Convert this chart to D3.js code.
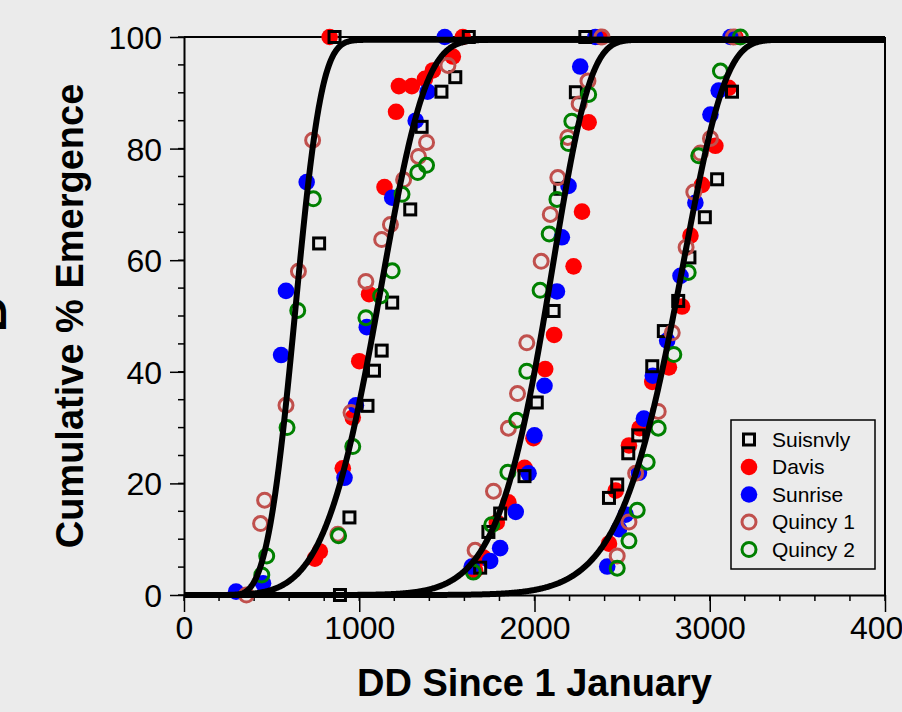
<!DOCTYPE html>
<html>
<head>
<meta charset="utf-8">
<script src="https://cdn.jsdelivr.net/npm/d3@7"></script>
<style>
  body { margin: 0; background: #ebebeb; }
  svg { display: block; font-family: 'Liberation Sans', Arial, Helvetica, sans-serif; }
</style>
</head>
<body>
<div id="chart"></div>
<script>
// observed emergence, [DD, cumulative %]
const suisnvly = [
  [859, 100], [771, 63],
  [890, 0], [944, 13.9], [1047, 33.9], [1084, 40.2], [1128, 43.8], [1188, 52.4], [1291, 69.1], [1356, 83.9], [1469, 90.2], [1548, 92.8], [1625, 100],
  [1690, 4.9], [1737, 11.3], [1804, 14.6], [1943, 21.3], [2013, 34.5], [2109, 50.9], [2147, 72.8], [2236, 90.1], [2290, 100],
  [2425, 17.4], [2472, 19.8], [2535, 25.4], [2592, 28.6], [2672, 41.0], [2738, 47.3], [2820, 52.7], [2884, 60.5], [2972, 67.7], [3042, 74.5], [3127, 90.2]
]
const davis = [
  [831, 100],
  [747, 6.5], [775, 7.8], [906, 22.7], [963, 31.8], [1000, 41.9], [1056, 53.9], [1144, 73.1], [1210, 86.6], [1226, 91.2], [1300, 91.2], [1375, 92.5], [1420, 94], [1534, 96.5], [1591, 100],
  [1661, 4.4], [1709, 6.7], [1785, 13.0], [1851, 16.6], [1943, 22.8], [1994, 28.1], [2061, 40.5], [2112, 46.6], [2223, 58.9], [2271, 68.7], [2309, 84.7], [2375, 100],
  [2425, 9.2], [2463, 18.7], [2539, 26.8], [2600, 29.9], [2672, 38.2], [2767, 40.8], [2842, 51.7], [2890, 64.4], [2956, 73.5], [3032, 80.5], [3108, 90.9], [3146, 100]
]
const sunrise = [
  [297, 0.6], [451, 2.1], [554, 43], [582, 54.5], [700, 74],
  [916, 21.0], [981, 34.0], [1043, 48.0], [1188, 71.2], [1322, 85.0], [1390, 90.2], [1488, 100],
  [1642, 5.1], [1747, 6.1], [1804, 8.4], [1893, 14.9], [1966, 21.8], [2000, 28.6], [2057, 37.5], [2128, 54.4], [2156, 64.1], [2194, 73.3], [2261, 94.7], [2347, 100],
  [2415, 5.1], [2482, 11.8], [2520, 14.4], [2596, 21.9], [2624, 31.6], [2675, 39.3], [2757, 45.6], [2833, 57.2], [2918, 70.3], [3004, 86.1], [3051, 90.4], [3118, 100]
]
const quincy1 = [
  [356, 0], [437, 12.8], [460, 17], [582, 34], [653, 58], [734, 81.5],
  [878, 10.9], [953, 32.7], [1038, 56.2], [1128, 63.7], [1178, 66.4], [1253, 74.4], [1338, 78.6], [1384, 81.1], [1506, 94.9],
  [1661, 8.0], [1766, 18.6], [1851, 29.9], [1903, 36.1], [1956, 45.2], [2038, 59.8], [2090, 68.2], [2133, 74.8], [2190, 82.0], [2255, 88.0], [2305, 92.1], [2385, 100],
  [2472, 7.0], [2539, 13.1], [2577, 21.8], [2706, 32.9], [2786, 47.0], [2865, 62.3], [2909, 72.2], [2947, 79.2], [3004, 81.8], [3135, 100]
]
const quincy2 = [
  [444, 3.6], [472, 7], [588, 30], [649, 51], [738, 71],
  [882, 10.6], [963, 26.6], [1038, 49.7], [1122, 53.6], [1188, 58.1], [1244, 71.8], [1334, 75.7], [1384, 77.0],
  [1651, 4.1], [1756, 12.6], [1848, 22.0], [1899, 31.3], [1956, 40.1], [2032, 54.6], [2084, 64.7], [2128, 70.9], [2194, 80.9], [2213, 84.9], [2309, 89.7],
  [2472, 4.8], [2539, 9.7], [2586, 15.2], [2643, 23.8], [2706, 29.9], [2795, 43.1], [2877, 57.8], [2937, 78.7], [3061, 93.9], [3175, 100]
]

// fitted Weibull curves: lag, scale, shape
const curveLag = [250, 0, 0, 0]
const curveScale = [422, 1169, 2125, 2870]
const curveShape = [3.6, 5.5, 11, 13]
const curveMax = 99.5

const xTicks = [0, 1000, 2000, 3000, 4000]
const yTicks = [0, 20, 40, 60, 80, 100]

const margin = { top: 37, left: 184, right: 17, bottom: 117 }
const width = 902 - margin.left - margin.right
const height = 712 - margin.top - margin.bottom

const svg = d3
  .select('#chart')
  .append('svg')
  .attr('width', 902)
  .attr('height', 712)
  .append('g')
  .attr('transform', 'translate(' + margin.left + ',' + margin.top + ')')

const x = d3.scaleLinear().domain([0, 4000]).range([0, width])
const y = d3.scaleLinear().domain([0, 100]).range([height, 0])

// minor ticks
svg
  .selectAll('.xminor')
  .data(d3.range(0, 4001, 200))
  .enter()
  .append('line')
  .attr('x1', d => x(d))
  .attr('x2', d => x(d))
  .attr('y1', height)
  .attr('y2', height + 6)
  .attr('stroke', '#000')
  .attr('stroke-width', 1.5)

svg
  .selectAll('.yminor')
  .data(d3.range(0, 101, 5))
  .enter()
  .append('line')
  .attr('x1', -6)
  .attr('x2', 0)
  .attr('y1', d => y(d))
  .attr('y2', d => y(d))
  .attr('stroke', '#000')
  .attr('stroke-width', 1.5)

// axes
const xAxis = svg
  .append('g')
  .attr('transform', 'translate(0,' + height + ')')
  .call(
    d3.axisBottom(x)
      .tickValues(xTicks)
      .tickFormat(d3.format('d'))
      .tickSize(17)
      .tickPadding(4)
      .tickSizeOuter(0)
  )
const yAxis = svg
  .append('g')
  .call(
    d3.axisLeft(y)
      .tickValues(yTicks)
      .tickFormat(d3.format('d'))
      .tickSize(14)
      .tickPadding(8)
      .tickSizeOuter(0)
  )

xAxis.selectAll('text').attr('font-size', 32).attr('fill', '#000').style('font-family', 'Liberation Sans, Arial, sans-serif')
yAxis.selectAll('text').attr('font-size', 32).attr('fill', '#000').attr('dy', '0.36em').style('font-family', 'Liberation Sans, Arial, sans-serif')
svg.selectAll('.domain').attr('stroke-width', 2)
svg.selectAll('.tick line').attr('stroke-width', 1.5)

// frame top and right
svg.append('line').attr('x1', 0).attr('x2', width).attr('y1', 0).attr('y2', 0).attr('stroke', '#000').attr('stroke-width', 2)
svg.append('line').attr('x1', width).attr('x2', width).attr('y1', 0).attr('y2', height).attr('stroke', '#000').attr('stroke-width', 2)

// titles
svg
  .append('text')
  .text('DD Since 1 January')
  .attr('x', width / 2)
  .attr('y', height + 101)
  .attr('text-anchor', 'middle')
  .attr('font-size', 38)
  .attr('font-weight', 'bold')

svg
  .append('text')
  .text('Cumulative % Emergence')
  .attr('transform', 'translate(-101,' + height / 2 + ') rotate(-90)')
  .attr('text-anchor', 'middle')
  .attr('font-size', 38)
  .attr('font-weight', 'bold')

// panel letter, mostly off the page
svg
  .append('text')
  .text('B')
  .attr('transform', 'translate(-178,' + 278 + ') rotate(-90)')
  .attr('text-anchor', 'middle')
  .attr('font-size', 48)
  .attr('font-weight', 'bold')

// points
const series = [
  { name: 'Davis', data: davis, shape: 'dot', color: '#ff0000' },
  { name: 'Sunrise', data: sunrise, shape: 'dot', color: '#0000ff' },
  { name: 'Suisnvly', data: suisnvly, shape: 'square', color: '#000000' },
  { name: 'Quincy 1', data: quincy1, shape: 'ring', color: '#c0504d' },
  { name: 'Quincy 2', data: quincy2, shape: 'ring', color: '#008000' }
]

function drawMarker(g, s) {
  if (s.shape === 'dot') {
    g.append('circle').attr('r', 8.3).attr('fill', s.color)
  } else if (s.shape === 'ring') {
    g.append('circle').attr('r', 7).attr('fill', 'none').attr('stroke', s.color).attr('stroke-width', 3)
  } else {
    g.append('rect')
      .attr('x', -5.5)
      .attr('y', -5.5)
      .attr('width', 11)
      .attr('height', 11)
      .attr('fill', 'none')
      .attr('stroke', s.color)
      .attr('stroke-width', 3)
  }
}

series.forEach(s => {
  svg
    .selectAll('.pt-' + s.shape + s.color.slice(1))
    .data(s.data)
    .enter()
    .append('g')
    .attr('transform', d => `translate(${x(d[0])},${y(d[1])})`)
    .each(function() {
      drawMarker(d3.select(this), s)
    })
})

// fitted curves
const line = d3
  .line()
  .x(d => x(d[0]))
  .y(d => y(d[1]))

curveLag.forEach((lag, i) => {
  const pts = d3.range(0, 4001, 4).map(dd => {
    const t = Math.max(0, dd - lag) / curveScale[i]
    return [dd, curveMax * (1 - Math.exp(-Math.pow(t, curveShape[i])))]
  })
  svg
    .append('path')
    .datum(pts)
    .attr('d', line)
    .attr('fill', 'none')
    .attr('stroke', '#000')
    .attr('stroke-width', 6)
    .attr('stroke-linejoin', 'round')
})

// legend
const legendOrder = ['Suisnvly', 'Davis', 'Sunrise', 'Quincy 1', 'Quincy 2']
const legend = svg.append('g').attr('transform', 'translate(547,383)')
legend
  .append('rect')
  .attr('width', 144)
  .attr('height', 149)
  .attr('fill', 'none')
  .attr('stroke', '#000')
  .attr('stroke-width', 1.5)

legendOrder.forEach((name, i) => {
  const s = series.find(d => d.name === name)
  const g = legend.append('g').attr('transform', `translate(18,${19.5 + i * 27.5})`)
  drawMarker(g, s)
  g.append('text')
    .text(name)
    .attr('x', 23)
    .attr('dy', '0.35em')
    .attr('font-size', 21)
})
</script>
</body>
</html>
